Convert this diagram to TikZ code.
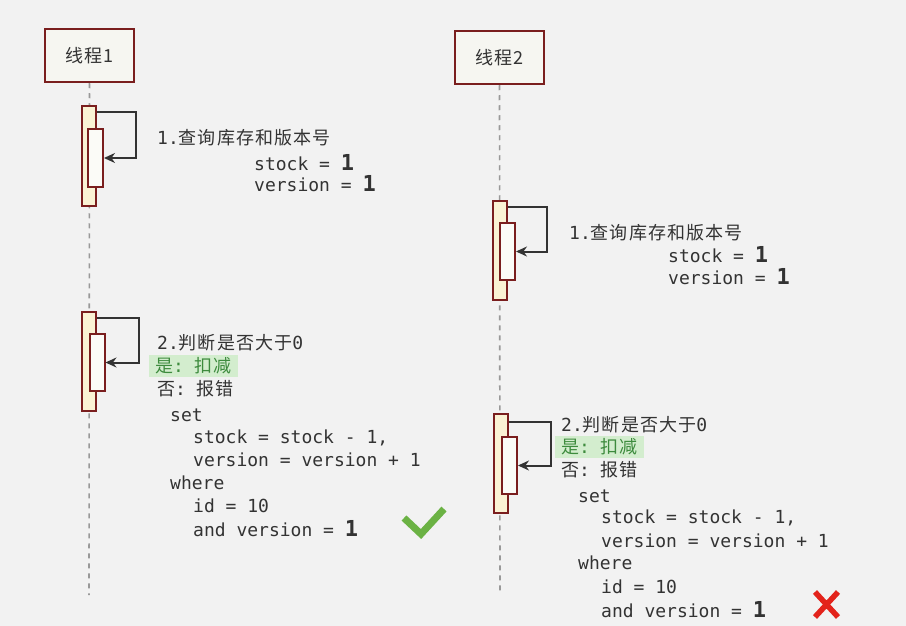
\documentclass[tikz,border=0pt]{standalone}
\usepackage{fontspec}
\setmonofont{DejaVu Sans Mono}
\newfontfamily\cjk[LetterSpace=6]{Noto Sans CJK SC}
\usetikzlibrary{arrows.meta}

\definecolor{bggray}{HTML}{F2F2F2}
\definecolor{boxred}{HTML}{7A1E1E}
\definecolor{boxfill}{HTML}{F6F6F1}
\definecolor{actyellow}{HTML}{FAF2D4}
\definecolor{actwhite}{HTML}{FBFBF7}
\definecolor{txtgray}{HTML}{333333}
\definecolor{hlgreen}{HTML}{D3EDCE}
\definecolor{okgreen}{HTML}{3D8B3D}
\definecolor{checkgreen}{HTML}{6BB244}
\definecolor{crossred}{HTML}{E3231B}

\newcommand{\boldone}{{\fontsize{22}{22}\selectfont\bfseries 1}}

\begin{document}
\begin{tikzpicture}[x=1pt, y=-1pt, % 画素単位、y は下向き
    threadbox/.style={draw=boxred, line width=2.5pt, fill=boxfill, minimum width=89pt, minimum height=53pt,
      font=\cjk\fontsize{18}{22}\selectfont, text=txtgray},
    actouter/.style={draw=boxred, line width=2pt, fill=actyellow, minimum width=14pt, minimum height=99pt, inner sep=0pt},
    actinner/.style={draw=boxred, line width=2pt, fill=actwhite, minimum width=15pt, minimum height=57pt, inner sep=0pt},
    lifeline/.style={gray!80, line width=1.6pt, dash pattern=on 5pt off 5pt},
    selfcall/.style={txtgray, line width=2pt, -{Stealth[length=11pt, width=10pt]}},
    codetext/.style={anchor=west, inner sep=0pt, text=txtgray, font=\ttfamily\fontsize{18}{22}\selectfont},
    yestext/.style={codetext, fill=hlgreen, text=okgreen, inner xsep=6pt, minimum height=22pt}]
    \fill[bggray] (0,0) rectangle (906,626); % 背景

    \node[threadbox] (t1) at (89.5,55.5) {线程1}; % スレッド1
    \node[threadbox] (t2) at (499.5,57.5) {线程2}; % スレッド2
    \coordinate (l1end) at (89,595);
    \coordinate (l2end) at (500,595);
    \draw[lifeline] (t1.south) -- (l1end); % 生存線
    \draw[lifeline] (t2.south) -- (l2end);

    \node[actouter] (a1) at (88.5,156) {}; % 活性区間
    \node[actinner] (i1) at (95.5,158) {};
    \draw[selfcall] ([yshift=-7pt]a1.north east) -| ([xshift=32pt]i1.east) -- (i1.east); % 自己呼び出し
    \node[actouter] (a2) at (89,361) {};
    \node[actinner] (i2) at (97,362.5) {};
    \draw[selfcall] ([yshift=-7pt]a2.north east) -| ([xshift=33pt]i2.east) -- (i2.east);

    \node[actouter] (b1) at (500,250) {};
    \node[actinner] (j1) at (507.5,251.5) {};
    \draw[selfcall] ([yshift=-7pt]b1.north east) -| ([xshift=31pt]j1.east) -- (j1.east);
    \node[actouter] (b2) at (501,463.5) {};
    \node[actinner] (j2) at (509.5,465.5) {};
    \draw[selfcall] ([yshift=-9pt]b2.north east) -| ([xshift=33pt]j2.east) -- (j2.east);

    % スレッド1の説明
    \node[codetext] (q1) at (157,138) {1.{\cjk 查询库存和版本号}};
    \node[codetext] (s1) at (254,163) {stock = \boldone};
    \node[codetext] (v1) at (254,184) {version = \boldone};
    \node[codetext] (d1) at (157,343) {2.{\cjk 判断是否大于}0};
    \node[yestext] (y1) at (149,366) {{\cjk 是}: {\cjk 扣减}}; % 緑の強調
    \node[codetext] (n1) at (157,389) {{\cjk 否}: {\cjk 报错}};
    \node[codetext] (set1) at (170,415) {set};
    \node[codetext] (st1) at (193,438) {stock = stock - 1,};
    \node[codetext] (ve1) at (193,460) {version = version + 1};
    \node[codetext] (wh1) at (170,483) {where};
    \node[codetext] (id1) at (193,506) {id = 10};
    \node[codetext] (an1) at (193,529) {and version = \boldone};
    \draw[checkgreen, line width=7pt] (404,518) -- (421,534) -- (444,509); % 成功

    % スレッド2の説明
    \node[codetext] (q2) at (569,233) {1.{\cjk 查询库存和版本号}};
    \node[codetext] (s2) at (668,255) {stock = \boldone};
    \node[codetext] (v2) at (668,277) {version = \boldone};
    \node[codetext] (d2) at (561,425) {2.{\cjk 判断是否大于}0};
    \node[yestext] (y2) at (555,447) {{\cjk 是}: {\cjk 扣减}};
    \node[codetext] (n2) at (561,470) {{\cjk 否}: {\cjk 报错}};
    \node[codetext] (set2) at (578,496) {set};
    \node[codetext] (st2) at (601,518) {stock = stock - 1,};
    \node[codetext] (ve2) at (601,541) {version = version + 1};
    \node[codetext] (wh2) at (578,563) {where};
    \node[codetext] (id2) at (601,587) {id = 10};
    \node[codetext] (an2) at (601,610) {and version = \boldone};
    \draw[crossred, line width=5.5pt] (815,592) -- (838,617) (838,592) -- (815,617); % 失敗
\end{tikzpicture}
\end{document}
